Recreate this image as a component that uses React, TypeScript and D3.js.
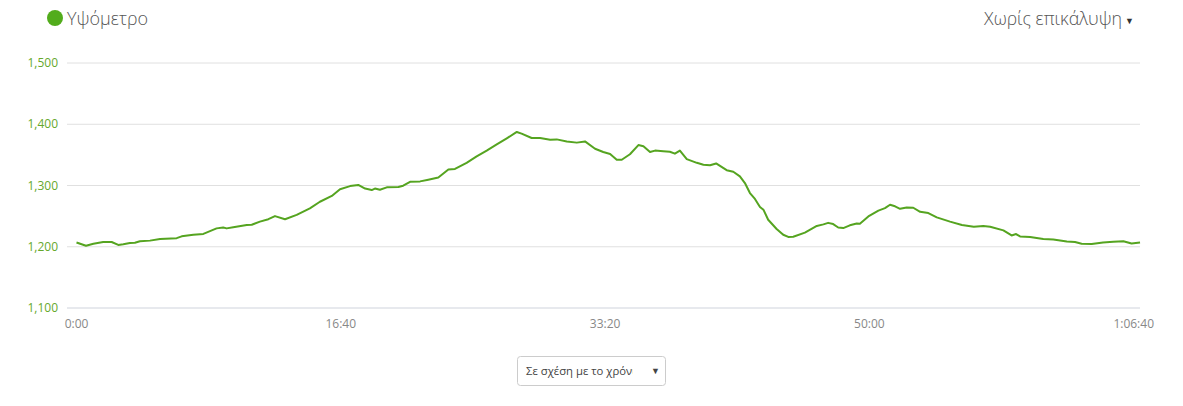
import React from "react";
import * as d3 from "d3";

const seconds = [0,36,64,101,133,158,177,202,221,240,278,316,379,398,442,480,530,555,568,593,644,663,694,726,751,789,833,883,921,966,997,1035,1066,1092,1117,1129,1148,1174,1218,1236,1262,1300,1331,1369,1407,1432,1476,1514,1552,1590,1628,1666,1684,1722,1754,1792,1817,1855,1893,1924,1962,1993,2019,2044,2063,2094,2126,2145,2170,2189,2220,2245,2264,2283,2309,2347,2372,2397,2420,2460,2485,2510,2529,2548,2567,2586,2599,2617,2649,2674,2693,2712,2756,2801,2826,2844,2863,2882,2901,2926,2952,2964,2996,3034,3059,3078,3097,3116,3141,3166,3192,3223,3255,3305,3350,3395,3431,3457,3507,3538,3555,3570,3608,3658,3696,3747,3778,3803,3841,3884,3923,3961,3992,4024];
const elevation = [1207,1201.6,1205,1207.7,1207.7,1203,1204,1206,1206.5,1209,1210,1212.6,1214,1217,1219.6,1221,1230,1231.5,1230,1232,1235.5,1236,1241,1245,1250,1245,1252,1262.6,1273.5,1283,1294,1299,1301,1295,1292.6,1295,1293,1297,1297.5,1299.7,1306,1306.7,1309.5,1313,1326,1327,1337,1347.5,1357,1367,1377,1387.4,1384.6,1377.6,1377.6,1374.8,1375.3,1372,1370,1372,1360,1354.7,1351.5,1342,1342,1351,1366,1364,1354.7,1357,1356,1355,1352,1357,1343,1337,1334,1333,1336,1325,1322.5,1315,1304,1287.7,1278,1265,1260.5,1244,1229,1219.6,1216,1216.3,1223,1234,1236.5,1239,1237,1231.5,1230.5,1235,1238,1237.6,1249.5,1259,1263,1268.6,1266,1262,1264,1263.7,1257,1255,1248,1241,1235.5,1232.7,1233.8,1232.7,1226.7,1218.5,1220.7,1216.8,1215.8,1212.6,1212,1208.7,1207.7,1205,1204.4,1207,1208,1209,1205.4,1207];

const yTicks = [1100, 1200, 1300, 1400, 1500];
const xTicks = [0, 1000, 2000, 3000, 4000];
const xTickLabels = ["0:00", "16:40", "33:20", "50:00", "1:06:40"];
const seriesName = "Υψόμετρο";
const overlayLabel = "Χωρίς επικάλυψη";
const modeLabel = "Σε σχέση με το χρόνι";

export default function App() {
  const W = 1183, H = 406;
  const x = d3.scaleLinear().domain([0, 4000]).range([76.5, 1133.7]);
  const y = d3.scaleLinear().domain([1100, 1500]).range([308, 63]);
  const pts = seconds.map((s, i) => [s, elevation[i]] as [number, number]);
  const line = d3.line<[number, number]>().x(d => x(d[0])).y(d => y(d[1]));
  const font = "'Open Sans', 'Segoe UI', sans-serif";
  return (
    <svg width={W} height={H} style={{ position: "absolute", left: 0, top: 0, fontFamily: font }}>
      <rect width={W} height={H} fill="#fff" />
      {/* legend */}
      <circle cx={55} cy={18} r={8} fill="#52ac1c" />
      <text x={67} y={25} fontSize={18} fontWeight={300} fill="#555">{seriesName}</text>
      <text x={1122} y={25} fontSize={17.8} fontWeight={300} fill="#555" textAnchor="end">{overlayLabel}</text>
      <text x={1125} y={24} fontSize={9} fill="#333">▼</text>
      {/* grid */}
      {yTicks.map(t => (
        <line key={t} x1={67} x2={1140} y1={y(t)} y2={y(t)} stroke={t === 1100 ? "#cfd3dc" : "#e0e0e0"} strokeWidth={1} />
      ))}
      {yTicks.map(t => (
        <text key={"l" + t} x={58} y={y(t) + 4} fontSize={12} fill="#66a82c" textAnchor="end">{d3.format(",")(t)}</text>
      ))}
      {xTicks.map((t, i) => (
        <text key={"x" + t} x={x(t)} y={328} fontSize={12} fill="#888" textAnchor="middle">{xTickLabels[i]}</text>
      ))}
      <path d={line(pts) || ""} fill="none" stroke="#55a420" strokeWidth={2} strokeLinejoin="round" />
      {/* bottom dropdown */}
      <rect x={517.5} y={356.5} width={148} height={29} rx={3} fill="#fff" stroke="#ccc" />
      <clipPath id="ddclip"><rect x={520} y={356} width={113} height={30} /></clipPath>
      <text x={526} y={375} fontSize={11.3} fill="#444" clipPath="url(#ddclip)">{modeLabel}</text>
      <text x={651} y={374} fontSize={9} fill="#444">▼</text>
    </svg>
  );
}
